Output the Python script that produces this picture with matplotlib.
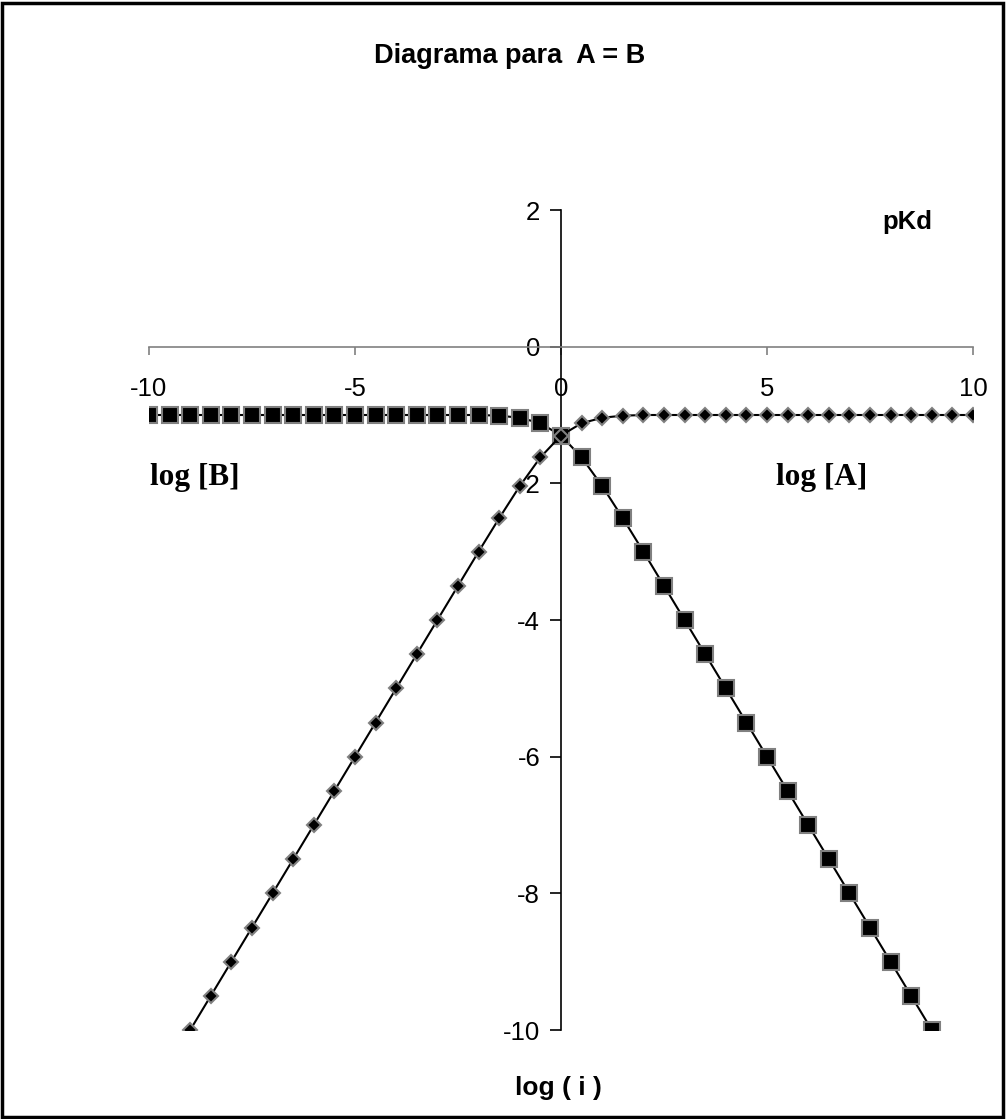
import matplotlib
matplotlib.use('Agg')
import matplotlib.pyplot as plt
from matplotlib.patches import Rectangle

# log(i) values
x_A = [-9.0, -8.5, -8.0, -7.5, -7.0, -6.5, -6.0, -5.5, -5.0, -4.5, -4.0, -3.5,
       -3.0, -2.5, -2.0, -1.5, -1.0, -0.5, 0.0, 0.5, 1.0, 1.5, 2.0, 2.5, 3.0,
       3.5, 4.0, 4.5, 5.0, 5.5, 6.0, 6.5, 7.0, 7.5, 8.0, 8.5, 9.0, 9.5, 10.0]
y_A = [-10.0, -9.5, -9.0, -8.5, -8.0, -7.5, -7.0, -6.5, -6.0, -5.5, -5.0, -4.5,
       -4.0, -3.5, -3.0, -2.51, -2.04, -1.62, -1.30, -1.12, -1.04, -1.01, -1.0,
       -1.0, -1.0, -1.0, -1.0, -1.0, -1.0, -1.0, -1.0, -1.0, -1.0, -1.0, -1.0,
       -1.0, -1.0, -1.0, -1.0]
x_B = [-10.0, -9.5, -9.0, -8.5, -8.0, -7.5, -7.0, -6.5, -6.0, -5.5, -5.0, -4.5,
       -4.0, -3.5, -3.0, -2.5, -2.0, -1.5, -1.0, -0.5, 0.0, 0.5, 1.0, 1.5, 2.0,
       2.5, 3.0, 3.5, 4.0, 4.5, 5.0, 5.5, 6.0, 6.5, 7.0, 7.5, 8.0, 8.5, 9.0]
y_B = [-1.0, -1.0, -1.0, -1.0, -1.0, -1.0, -1.0, -1.0, -1.0, -1.0, -1.0, -1.0,
       -1.0, -1.0, -1.0, -1.0, -1.0, -1.01, -1.04, -1.12, -1.30, -1.62, -2.04,
       -2.51, -3.0, -3.5, -4.0, -4.5, -5.0, -5.5, -6.0, -6.5, -7.0, -7.5, -8.0,
       -8.5, -9.0, -9.5, -10.0]
xticks = [-10, -5, 0, 5, 10]
yticks = [2, 0, -2, -4, -6, -8, -10]

plt.rcParams['axes.unicode_minus'] = False

W, H = 1006, 1119
fig = plt.figure(figsize=(W / 100, H / 100), dpi=100)
ax = fig.add_axes([149/W, 1 - 1030/H, (973 - 149)/W, (1030 - 210)/H])
ax.set_xlim(-10, 10)
ax.set_ylim(-10, 2)

ax.plot(x_B, y_B, color='black', lw=1.5, marker='s', ms=11,
        mfc='black', mec='#808080', mew=1.5, zorder=3)
ax.plot(x_A, y_A, color='black', lw=1.5, marker='D', ms=7,
        mfc='black', mec='#808080', mew=1.5, zorder=4)

for s in ['top', 'right']:
    ax.spines[s].set_visible(False)
ax.spines['left'].set_position(('data', 0))
ax.spines['bottom'].set_position(('data', 0))
ax.spines['bottom'].set_color('#808080')
ax.spines['left'].set_color('black')
ax.spines['bottom'].set_linewidth(1.2)
ax.spines['left'].set_linewidth(1.2)

ax.set_xticks(xticks)
ax.set_yticks(yticks)
ax.tick_params(axis='x', direction='out', length=6, color='#808080', width=1.2,
               labelsize=18.5, pad=16)
ax.tick_params(axis='y', direction='out', length=8, color='black', width=1.2,
               labelsize=18.5, pad=7)
for lab in ax.get_xticklabels() + ax.get_yticklabels():
    lab.set_family('Liberation Sans')
ax.patch.set_alpha(0)

fig.text(510/W, 1 - 63/H, 'Diagrama para  A = B', ha='center', va='baseline',
         family='Liberation Sans', weight='bold', fontsize=19.5)
fig.text(907/W, 1 - 229/H, 'pKd', ha='center', va='baseline',
         family='Liberation Sans', weight='bold', fontsize=18.5)
fig.text(195/W, 1 - 485/H, 'log [B]', ha='center', va='baseline',
         family='Liberation Serif', weight='bold', fontsize=22.5)
fig.text(822/W, 1 - 485/H, 'log [A]', ha='center', va='baseline',
         family='Liberation Serif', weight='bold', fontsize=22.5)
fig.text(558/W, 1 - 1095/H, 'log ( i )', ha='center', va='baseline',
         family='Liberation Sans', weight='bold', fontsize=19)

fig.patches.append(Rectangle((0.0015, 0.0015), 0.996, 0.996, transform=fig.transFigure,
                             fill=False, edgecolor='black', lw=2.5))

fig.savefig('out.png', dpi=100)
